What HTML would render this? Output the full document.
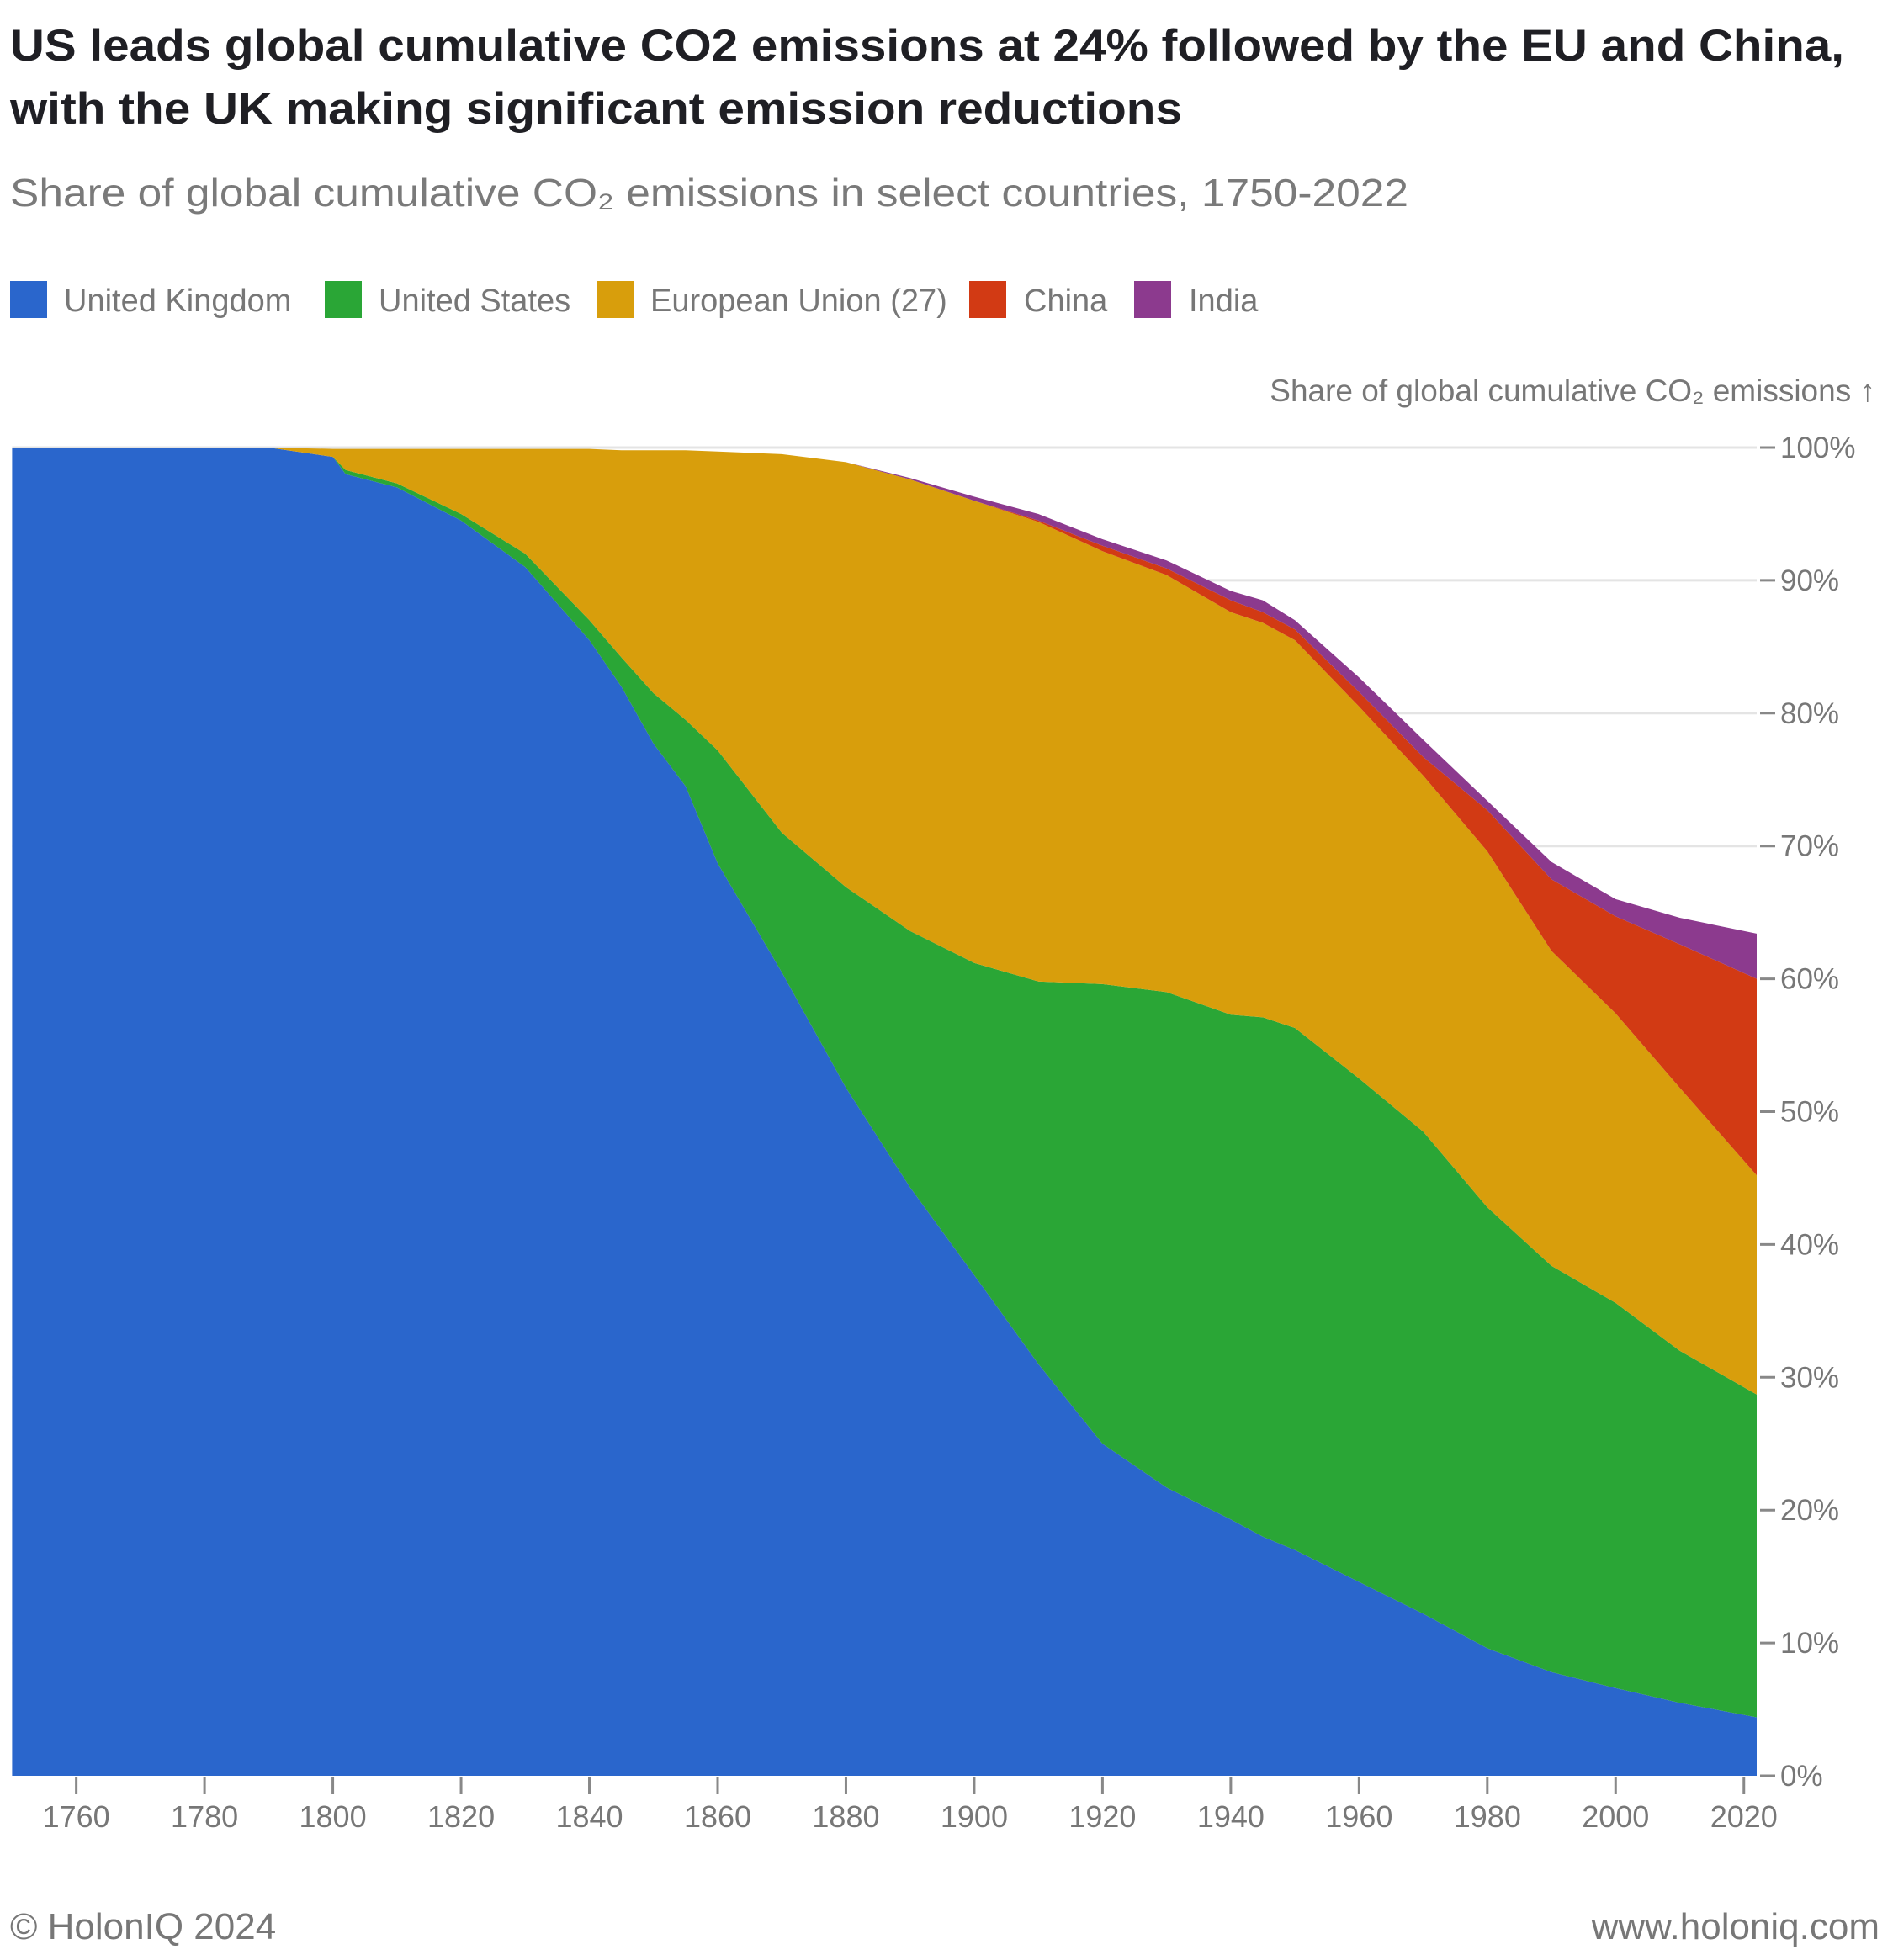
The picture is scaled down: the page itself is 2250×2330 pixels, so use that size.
<!DOCTYPE html>
<html><head><meta charset="utf-8"><style>
html,body{margin:0;padding:0;background:#fff;}
svg{display:block;font-family:"Liberation Sans",sans-serif;}
</style></head><body>
<svg id="chart" width="2250" height="2330" viewBox="0 0 2250 2330">
<text x="12" y="72" font-size="53" font-weight="bold" fill="#1f1f24" textLength="2180" lengthAdjust="spacingAndGlyphs">US leads global cumulative CO2 emissions at 24% followed by the EU and China,</text>
<text x="12" y="147" font-size="53" font-weight="bold" fill="#1f1f24" textLength="1393" lengthAdjust="spacingAndGlyphs">with the UK making significant emission reductions</text>
<text x="12" y="245" font-size="46" fill="#7a7a7a" textLength="1662" lengthAdjust="spacingAndGlyphs">Share of global cumulative CO₂ emissions in select countries, 1750-2022</text>
<g id="legend"></g>
<text x="2229" y="477" font-size="37" fill="#777" text-anchor="end">Share of global cumulative CO₂ emissions ↑</text>
<g id="grid"></g><g id="areas"></g><g id="axes"></g>
<text x="12" y="2305" font-size="44" fill="#777">© HolonIQ 2024</text>
<text x="2234" y="2305" font-size="44" fill="#777" text-anchor="end">www.holoniq.com</text>
</svg>
<script>
const years=[1750,1790,1800,1802,1810,1820,1830,1840,1845,1850,1855,1860,1870,1880,1890,1900,1910,1920,1930,1940,1945,1950,1960,1970,1980,1990,2000,2010,2022];
const ukShare=[100,100,99.3,98,97,94.5,91,85.5,82,77.7,74.5,68.7,60.5,51.8,44.3,37.7,31,25,21.7,19.3,18,17,14.6,12.2,9.6,7.8,6.6,5.5,4.4];
const usShare=[0,0,0,0.3,0.3,0.5,1,1.5,2.2,3.8,5,8.5,10.5,15.1,19.3,23.5,28.8,34.6,37.3,38,39.1,39.3,37.9,36.3,33.2,30.6,29,26.5,24.3];
const euShare=[0,0,0.6,1.6,2.6,4.9,7.9,12.9,15.6,18.3,20.3,22.5,28.5,32,34,34.8,34.6,32.6,31.4,30.3,29.7,29.2,28,26.8,26.8,23.7,21.8,19.8,16.5];
const cnShare=[0,0,0,0,0,0,0,0,0,0,0,0,0,0,0,0,0.1,0.4,0.5,0.9,0.8,0.8,1.1,1.4,3.1,5.4,7.3,10.8,14.8];
const inShare=[0,0,0,0,0,0,0,0,0,0,0,0,0,0,0.1,0.3,0.5,0.5,0.6,0.7,0.9,0.7,1.1,1.3,0.7,1.3,1.3,2.0,3.4];
const seriesNames=["United Kingdom","United States","European Union (27)","China","India"];
const seriesColors=["#2a66cc","#2aa636","#d89e0c","#d23a14","#8c3a8e"];
const yTicks=[0,10,20,30,40,50,60,70,80,90,100];
const xTicks=[1760,1780,1800,1820,1840,1860,1880,1900,1920,1940,1960,1980,2000,2020];
const NS="http://www.w3.org/2000/svg";
const X0=14.4,X1=2088,Y0=2111,Y1=532,yr0=1750,yr1=2022;
const xs=y=>X0+(y-yr0)/(yr1-yr0)*(X1-X0);
const ys=v=>Y0-v/100*(Y0-Y1);
function mk(t,a,p){const e=document.createElementNS(NS,t);for(const k in a)e.setAttribute(k,a[k]);p.appendChild(e);return e;}
const legX=[[12,76],[386,450],[709,773],[1152,1217],[1348,1413]];
const lg=document.getElementById('legend');
seriesNames.forEach((n,i)=>{
 const r=mk('rect',{x:legX[i][0],y:334,width:44,height:44,fill:seriesColors[i]},lg);
 
 
 const t=mk('text',{x:legX[i][1],y:370,'font-size':38,fill:'#777'},lg);t.textContent=n;
 
 
});
const g=document.getElementById('grid');
yTicks.forEach(v=>{
 if(v>0){const l=mk('line',{x1:X0,x2:X1,y1:ys(v),y2:ys(v),stroke:'#e4e4e4','stroke-width':3},g);
 
 }
});
const ar=document.getElementById('areas');
const all=[ukShare,usShare,euShare,cnShare,inShare];
let base=years.map(()=>0);
all.forEach((s,i)=>{
 const top=base.map((b,j)=>b+s[j]);
 let d='M'+years.map((y,j)=>xs(y).toFixed(1)+','+ys(top[j]).toFixed(1)).join('L');
 for(let j=years.length-1;j>=0;j--)d+='L'+xs(years[j]).toFixed(1)+','+ys(base[j]).toFixed(1);
 d+='Z';
 const p=mk('path',{d:d,fill:seriesColors[i]},ar);
 
 
 base=top;
});
const ax=document.getElementById('axes');
yTicks.forEach(v=>{
 mk('line',{x1:2092,x2:2110,y1:ys(v),y2:ys(v),stroke:'#888','stroke-width':3},ax);
 const t=mk('text',{x:2116,y:ys(v)+12,'font-size':35,fill:'#777'},ax);t.textContent=v+'%';
 
 
});
xTicks.forEach(y=>{
 mk('line',{x1:xs(y),x2:xs(y),y1:Y0+2,y2:Y0+22,stroke:'#888','stroke-width':3},ax);
 const t=mk('text',{x:xs(y),y:2172,'font-size':36,fill:'#777','text-anchor':'middle'},ax);t.textContent=y;
 
 
});
</script>
</body></html>
